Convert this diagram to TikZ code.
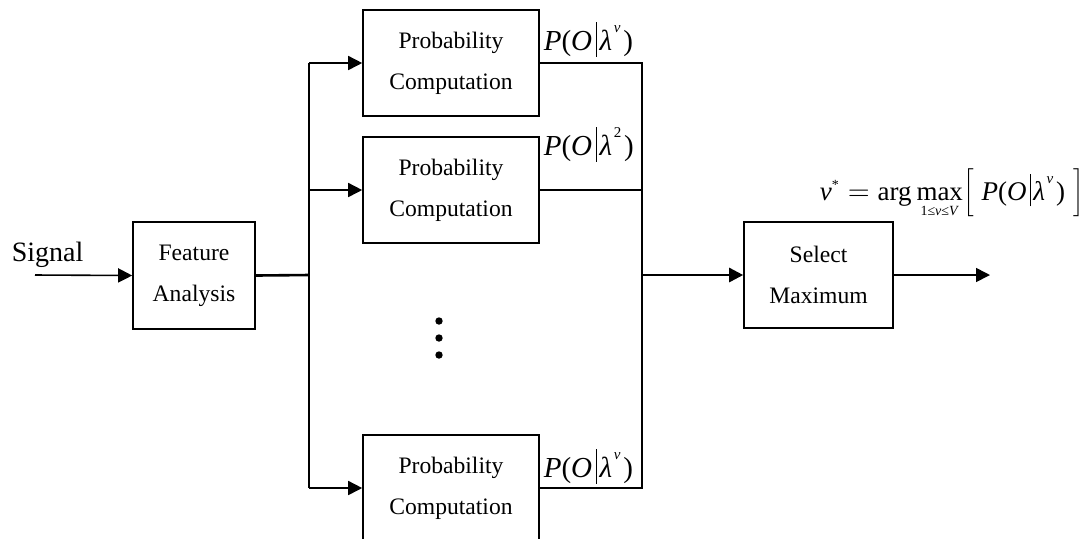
\documentclass[tikz,border=0pt]{standalone}
\usepackage{fontspec}
\setmainfont{Liberation Serif}
\usetikzlibrary{arrows.meta}
\newcommand{\pbar}{\kern0.12em\rule[-0.24em]{0.055em}{1.22em}\kern0.08em}
\newcommand{\pol}[1]{\textit{P}(\textit{O}\pbar\textit{λ}\kern0.06em\raisebox{0.62em}{\fontsize{7.5}{8}\selectfont #1}\kern0.1em)}
\begin{document}
\begin{tikzpicture}[x=0.5pt,y=-0.5pt,line width=0.8pt,
  >={Triangle[length=7pt,width=7pt]},
  box/.style={draw,line width=0.8pt,minimum width=88pt,minimum height=53pt,inner sep=0pt,align=center,font=\fontsize{11.8}{20.5}\selectfont},
  lab/.style={anchor=base west,inner sep=0pt,font=\fontsize{14.5}{16}\selectfont},
  thickline/.style={line width=1.3pt}]
\useasboundingbox (0,0) rectangle (1091,538);
\clip (0,0) rectangle (1091,538);
% nodes
\node[box,minimum width=61pt,minimum height=53.5pt] (feat) at (194,275.5) {Feature\\Analysis};
\node[box] (p1) at (451,63) {Probability\\Computation};
\node[box] (p2) at (451,190) {Probability\\Computation};
\node[box] (p3) at (451,488) {Probability\\Computation};
\node[box,minimum width=74.5pt] (sel) at (818.5,275) {Select\\Maximum};
\node[anchor=base west,inner sep=0pt,font=\fontsize{14}{16}\selectfont] (sig) at (11,261) {Signal};
\node[lab] (l1) at (543,50) {\pol{\textit{v}}};
\node[lab] (l2) at (543,155) {\pol{2}};
\node[lab] (l3) at (543,477) {\pol{\textit{v}}};
\node[anchor=base west,inner sep=0pt,font=\fontsize{13.5}{15}\selectfont] (form) at (819,200)
  {$\mbox{\itshape v}^{\mbox{\fontsize{7}{8}\selectfont *}} = \mbox{arg}\mathop{\mbox{max}}\limits_{\raisebox{-1.5pt}{\fontsize{7}{8}\selectfont 1≤\textit{v}≤\textit{V}}}\biggl[\;\mbox{\pol{\textit{v}}}\;\biggr]$};
% coordinates
\coordinate (in) at (35,275);
\coordinate (j) at (309,275);
\coordinate (k) at (642,275);
\coordinate (out) at (990,275);
% dots
\foreach \yy in {321,338,355} \fill (439,\yy) circle (1.85pt);
% connectors
\draw[->] (in) -- (feat.west);
\draw[thickline] (feat.east) -- (j);
\draw (j |- p1.west) -- (j |- p3.west);
\draw[->] (j |- p1.west) -- (p1.west);
\draw[->] (j |- p2.west) -- (p2.west);
\draw[->] (j |- p3.west) -- (p3.west);
\draw (p1.east) -- (k |- p1.east) -- (k |- p3.east) -- (p3.east);
\draw (p2.east) -- (k |- p2.east);
\draw[thickline,->] (k) -- (sel.west);
\draw[->] (sel.east) -- (out);
\end{tikzpicture}
\end{document}
